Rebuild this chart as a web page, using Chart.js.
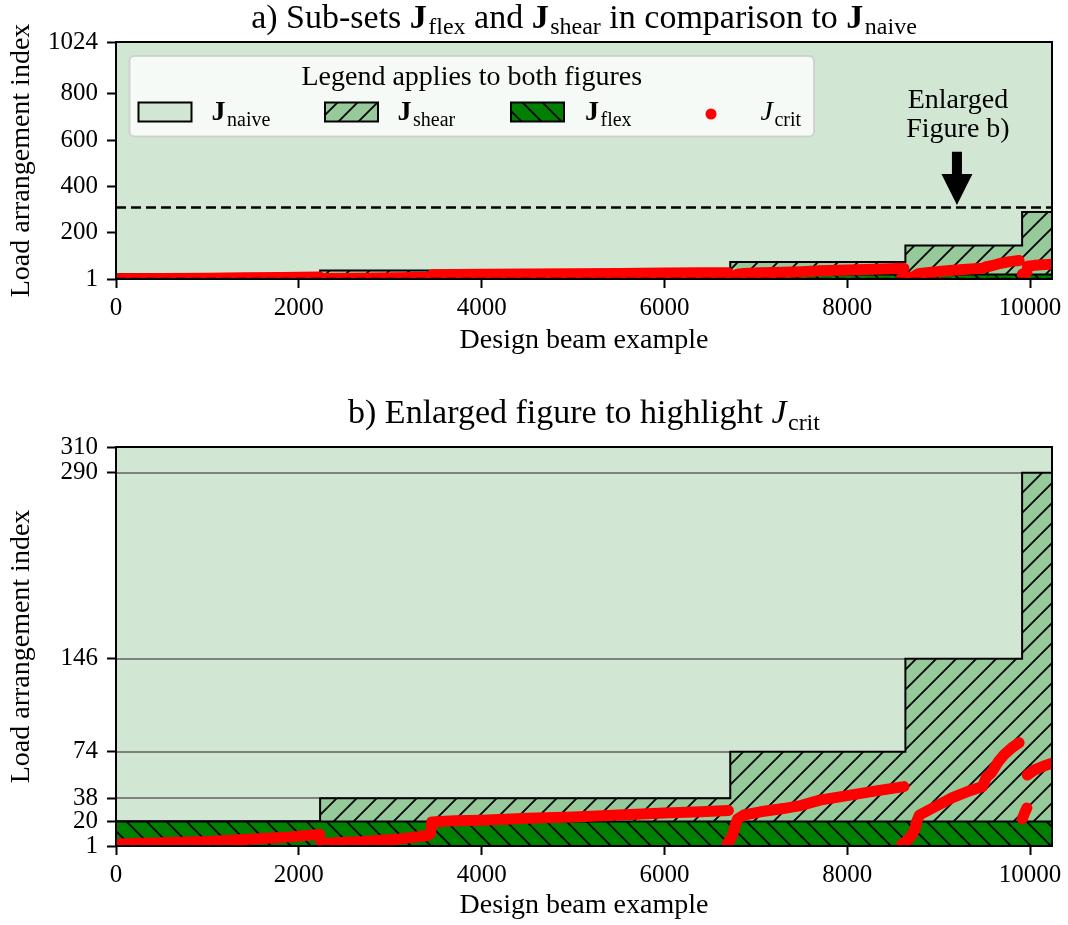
<!DOCTYPE html>
<html>
<head>
<meta charset="utf-8">
<title>Load arrangement sub-sets</title>
<script src="https://cdn.jsdelivr.net/npm/chart.js@4.4.1/dist/chart.umd.min.js"></script>
<style>
  html, body { margin: 0; padding: 0; background: #ffffff; }
  #page { position: relative; width: 1068px; height: 925px; overflow: hidden; background: #ffffff; }
  #page canvas { position: absolute; left: 0; }
</style>
</head>
<body>
<div id="page">
  <canvas id="full" width="1068" height="370" style="top:0px"></canvas>
  <canvas id="zoom" width="1068" height="550" style="top:375px"></canvas>
</div>
<script>
// ---------------- data ----------------
const xMax = 10240;
const xTicks = [0, 2000, 4000, 6000, 8000, 10000];
const yTicksFull = [1, 200, 400, 600, 800, 1024];
const yTicksZoom = [1, 20, 38, 74, 146, 290, 310];
const zoomWindow = [1, 310];

// naive set: every arrangement index for every beam
const naiveX = [0, 10240];
const naiveY = [1024, 1024];
// shear sub-set: upper index, piecewise constant over the beam examples
const shearX = [0, 2233, 6720, 8636, 9913, 10240];
const shearY = [20, 38, 74, 146, 290, 290];
// flexure sub-set
const flexX = [0, 10240];
const flexY = [20, 20];

// critical load arrangement per design beam (null separates runs)
const critX = [
  0, 500, 1000, 1400, 1800, 2230, null,
  2240, 2700, 3100, 3400, 3440, 3455, 3700, 4000, 4500, 5000, 5500, 6000, 6400, 6700, null,
  6680, 6720, 6750, 6775, 6800, 6870, 7050, 7300, 7500, 7700, 8000, 8300, 8620, null,
  8590, 8650, 8700, 8740, 8760, 8790, 8950, 9150, 9350, 9480, 9520, 9580, 9650, 9720, 9800, 9880, null,
  9915, 9940, 9965, null,
  9970, 10050, 10150, 10240
];
const critY = [
  2.5, 3.5, 4.5, 6, 7.5, 10, null,
  3, 4.5, 6.5, 9, 10.5, 19.5, 20.5, 21, 22.5, 23.5, 25, 26.5, 27.5, 28.5, null,
  2, 6, 11, 17, 22, 25, 27.5, 30, 32.5, 36.5, 40, 43.5, 47, null,
  1.5, 5, 9, 14, 20, 25, 31, 38.5, 44, 47, 54, 58, 66, 72, 77, 81, null,
  22, 26.5, 30.5, null,
  56, 60, 63, 65
];

// "Enlarged Figure b)" pointer, in data units of the upper axes
const arrowX = 9200, arrowFrom = 550, arrowTo = 320;

// ---------------- styling ----------------
const FAMILY = '"Liberation Serif", "Times New Roman", serif';
const TEXT_PX = 28, TITLE_PX = 34, TICK_PX = 25, SUB_RATIO = 0.71;
const C_NAIVE = '#d1e7d4';
const C_SHEAR = '#96ca9b';
const C_FLEX = '#008000';
const C_CRIT = '#ff0000';

function pts(xs, ys) {
  return xs.map((x, i) => ({ x: x, y: ys[i] }));
}

function hatch(bg, dir) {
  const s = 20;
  const c = document.createElement('canvas');
  c.width = s; c.height = s;
  const g = c.getContext('2d');
  g.fillStyle = bg;
  g.fillRect(0, 0, s, s);
  g.strokeStyle = '#000';
  g.lineWidth = 1.8;
  g.beginPath();
  if (dir === '/') {
    g.moveTo(-1, s + 1); g.lineTo(s + 1, -1);
    g.moveTo(-3, 3); g.lineTo(3, -3);
    g.moveTo(s - 3, s + 3); g.lineTo(s + 3, s - 3);
  } else {
    g.moveTo(-1, -1); g.lineTo(s + 1, s + 1);
    g.moveTo(s - 3, -3); g.lineTo(s + 3, 3);
    g.moveTo(-3, s - 3); g.lineTo(3, s + 3);
  }
  g.stroke();
  return g.createPattern(c, 'repeat');
}
const patShear = hatch(C_SHEAR, '/');
const patFlex = hatch(C_FLEX, '\\');

// text with bold / italic symbols and subscripts
function fontFor(kind, size) {
  if (kind === 'b') return 'bold ' + size + 'px ' + FAMILY;
  if (kind === 'i') return 'italic ' + size + 'px ' + FAMILY;
  if (kind === 's') return Math.round(size * SUB_RATIO) + 'px ' + FAMILY;
  return size + 'px ' + FAMILY;
}
function richText(ctx, parts, x, y, align, size) {
  const widths = parts.map(([t, k]) => {
    ctx.font = fontFor(k, size);
    return ctx.measureText(t).width + (k === 's' ? 1.5 : 0);
  });
  const total = widths.reduce((a, b) => a + b, 0);
  let cx = align === 'center' ? x - total / 2 : x;
  ctx.save();
  ctx.fillStyle = '#000';
  ctx.textAlign = 'left';
  ctx.textBaseline = 'alphabetic';
  parts.forEach(([t, k], i) => {
    ctx.font = fontFor(k, size);
    ctx.fillText(t, cx + (k === 's' ? 1.5 : 0), k === 's' ? y + size * 0.2 : y);
    cx += widths[i];
  });
  ctx.restore();
}

function roundRectPath(ctx, x, y, w, h, r) {
  ctx.beginPath();
  ctx.moveTo(x + r, y);
  ctx.lineTo(x + w - r, y);
  ctx.arcTo(x + w, y, x + w, y + r, r);
  ctx.lineTo(x + w, y + h - r);
  ctx.arcTo(x + w, y + h, x + w - r, y + h, r);
  ctx.lineTo(x + r, y + h);
  ctx.arcTo(x, y + h, x, y + h - r, r);
  ctx.lineTo(x, y + r);
  ctx.arcTo(x, y, x + r, y, r);
  ctx.closePath();
}

// ---------------- plugins ----------------
const axesFrame = {
  id: 'axesFrame',
  afterDatasetsDraw(chart) {
    const { ctx, chartArea: a } = chart;
    ctx.save();
    ctx.strokeStyle = '#000';
    ctx.lineWidth = 2;
    ctx.strokeRect(a.left, a.top, a.right - a.left, a.bottom - a.top);
    ctx.restore();
  }
};

function titlePlugin(parts, baseline) {
  return {
    id: 'richTitle',
    afterDraw(chart) {
      const a = chart.chartArea;
      richText(chart.ctx, parts, (a.left + a.right) / 2, baseline, 'center', TITLE_PX);
    }
  };
}

const zoomGrid = {
  id: 'zoomGrid',
  afterDatasetDraw(chart, args) {
    if (chart.data.datasets[args.index].label !== 'J_naive') return;
    const { ctx, chartArea: a, scales: { y } } = chart;
    ctx.save();
    ctx.strokeStyle = '#808080';
    ctx.lineWidth = 2;
    yTicksZoom.forEach(v => {
      if (v <= zoomWindow[0] || v >= zoomWindow[1]) return;
      const py = Math.round(y.getPixelForValue(v));
      ctx.beginPath();
      ctx.moveTo(a.left, py);
      ctx.lineTo(a.right, py);
      ctx.stroke();
    });
    ctx.restore();
  }
};

const legendAndNote = {
  id: 'legendAndNote',
  afterDraw(chart) {
    const { ctx, chartArea: a, scales: { x, y } } = chart;
    ctx.save();
    // pointer to the enlarged window
    const ax = x.getPixelForValue(arrowX);
    const y0 = y.getPixelForValue(arrowFrom);
    const y1 = y.getPixelForValue(arrowTo);
    const headLen = 31, headHalf = 15.5, shaftHalf = 5;
    ctx.fillStyle = '#000';
    ctx.beginPath();
    ctx.moveTo(ax - shaftHalf, y0);
    ctx.lineTo(ax + shaftHalf, y0);
    ctx.lineTo(ax + shaftHalf, y1 - headLen);
    ctx.lineTo(ax + headHalf, y1 - headLen);
    ctx.lineTo(ax, y1);
    ctx.lineTo(ax - headHalf, y1 - headLen);
    ctx.lineTo(ax - shaftHalf, y1 - headLen);
    ctx.closePath();
    ctx.fill();
    ctx.font = TEXT_PX + 'px ' + FAMILY;
    ctx.textAlign = 'center';
    ctx.textBaseline = 'alphabetic';
    ctx.fillText('Enlarged', ax + 1, y0 - 44);
    ctx.fillText('Figure b)', ax + 1, y0 - 15);

    // legend
    const lx = a.left + 13.5, ly = a.top + 14, lw = 684.5, lh = 80.5;
    roundRectPath(ctx, lx, ly, lw, lh, 5);
    ctx.fillStyle = 'rgba(255,255,255,0.8)';
    ctx.fill();
    ctx.strokeStyle = 'rgba(204,204,204,0.85)';
    ctx.lineWidth = 2;
    ctx.stroke();
    ctx.fillStyle = '#000';
    ctx.font = TEXT_PX + 'px ' + FAMILY;
    ctx.textAlign = 'center';
    ctx.fillText('Legend applies to both figures', lx + lw / 2, ly + 29);

    const hy = ly + 46.5, hw = 53, hh = 19;
    const handles = [[lx + 9, C_NAIVE], [lx + 195.5, patShear], [lx + 381.5, patFlex]];
    handles.forEach(([hx, fill]) => {
      ctx.fillStyle = fill;
      ctx.fillRect(hx, hy, hw, hh);
      ctx.strokeStyle = '#000';
      ctx.lineWidth = 2;
      ctx.strokeRect(hx, hy, hw, hh);
    });
    ctx.fillStyle = C_CRIT;
    ctx.beginPath();
    ctx.arc(lx + 581.5, hy + 11.5, 5.5, 0, Math.PI * 2);
    ctx.fill();
    ctx.restore();

    const tb = ly + 64;
    richText(ctx, [['J', 'b'], ['naive', 's']], lx + 82, tb, 'left', TEXT_PX);
    richText(ctx, [['J', 'b'], ['shear', 's']], lx + 268, tb, 'left', TEXT_PX);
    richText(ctx, [['J', 'b'], ['flex', 's']], lx + 455.5, tb, 'left', TEXT_PX);
    richText(ctx, [['J', 'i'], ['crit', 's']], lx + 631, tb, 'left', TEXT_PX);
  }
};

// ---------------- chart builders ----------------
function scalesFor(yMax, yTicks, xAxisHeight, xTitlePad) {
  return {
    x: {
      type: 'linear', min: 0, max: xMax,
      afterBuildTicks: s => { s.ticks = xTicks.map(v => ({ value: v })); },
      afterFit: s => { s.height = xAxisHeight; },
      ticks: {
        autoSkip: false, maxRotation: 0, minRotation: 0, padding: 5, color: '#000',
        font: { family: FAMILY, size: TICK_PX },
        callback: v => String(v)
      },
      grid: { display: true, drawOnChartArea: false, drawTicks: true, tickLength: 9, tickWidth: 2, tickColor: '#000' },
      border: { display: false },
      title: {
        display: true, text: 'Design beam example', color: '#000',
        font: { family: FAMILY, size: TEXT_PX }, padding: { top: 0, bottom: xTitlePad }
      }
    },
    y: {
      type: 'linear', min: 1, max: yMax,
      afterBuildTicks: s => { s.ticks = yTicks.map(v => ({ value: v })); },
      afterFit: s => { s.width = 116; },
      ticks: {
        autoSkip: false, padding: 9, color: '#000',
        font: { family: FAMILY, size: TICK_PX },
        callback: v => String(v)
      },
      grid: { display: true, drawOnChartArea: false, drawTicks: true, tickLength: 9, tickWidth: 2, tickColor: '#000' },
      border: { display: false },
      title: {
        display: true, text: 'Load arrangement index', color: '#000',
        font: { family: FAMILY, size: TEXT_PX }, padding: { top: 5, bottom: 0 }
      }
    }
  };
}

function setDatasets(withBounds) {
  const sets = [
    { label: 'J_naive', data: pts(naiveX, naiveY), stepped: true, fill: { value: 1 },
      backgroundColor: C_NAIVE, borderWidth: 0, pointRadius: 0, order: 6 },
    { label: 'J_shear', data: pts(shearX, shearY), stepped: true, fill: { value: 1 },
      backgroundColor: patShear, borderColor: '#000', borderWidth: 2, pointRadius: 0, order: 5 },
    { label: 'J_flex', data: pts(flexX, flexY), stepped: true, fill: { value: 1 },
      backgroundColor: patFlex, borderColor: '#000', borderWidth: 2, pointRadius: 0, order: 4 },
    { label: 'J_crit', data: pts(critX, critY), fill: false, borderColor: C_CRIT, borderWidth: 11,
      borderCapStyle: 'round', borderJoinStyle: 'round', pointRadius: 0, spanGaps: false, clip: 0, order: 3 }
  ];
  if (withBounds) {
    zoomWindow.forEach(v => sets.push({
      label: 'window ' + v, data: pts([0, xMax], [v, v]), fill: false, borderColor: '#000',
      borderWidth: 2.5, borderDash: [10, 5], pointRadius: 0, order: 2
    }));
  }
  return sets;
}

const common = {
  responsive: false,
  animation: false,
  devicePixelRatio: 1,
  events: [],
  parsing: true,
  plugins: { legend: { display: false }, tooltip: { enabled: false }, title: { display: false } }
};

new Chart(document.getElementById('full'), {
  type: 'line',
  data: { datasets: setDatasets(true) },
  options: Object.assign({}, common, {
    layout: { padding: { top: 42, right: 16, bottom: 0, left: 0 } },
    scales: scalesFor(1024, yTicksFull, 91, 13)
  }),
  plugins: [
    axesFrame,
    titlePlugin([['a) Sub-sets ', 'r'], ['J', 'b'], ['flex', 's'], [' and ', 'r'], ['J', 'b'], ['shear', 's'],
                 [' in comparison to ', 'r'], ['J', 'b'], ['naive', 's']], 27.5),
    legendAndNote
  ]
});

new Chart(document.getElementById('zoom'), {
  type: 'line',
  data: { datasets: setDatasets(false) },
  options: Object.assign({}, common, {
    layout: { padding: { top: 72, right: 16, bottom: 0, left: 0 } },
    scales: scalesFor(zoomWindow[1], yTicksZoom, 79, 3)
  }),
  plugins: [
    zoomGrid,
    axesFrame,
    titlePlugin([['b) Enlarged figure to highlight ', 'r'], ['J', 'i'], ['crit', 's']], 47.7)
  ]
});
</script>
</body>
</html>
